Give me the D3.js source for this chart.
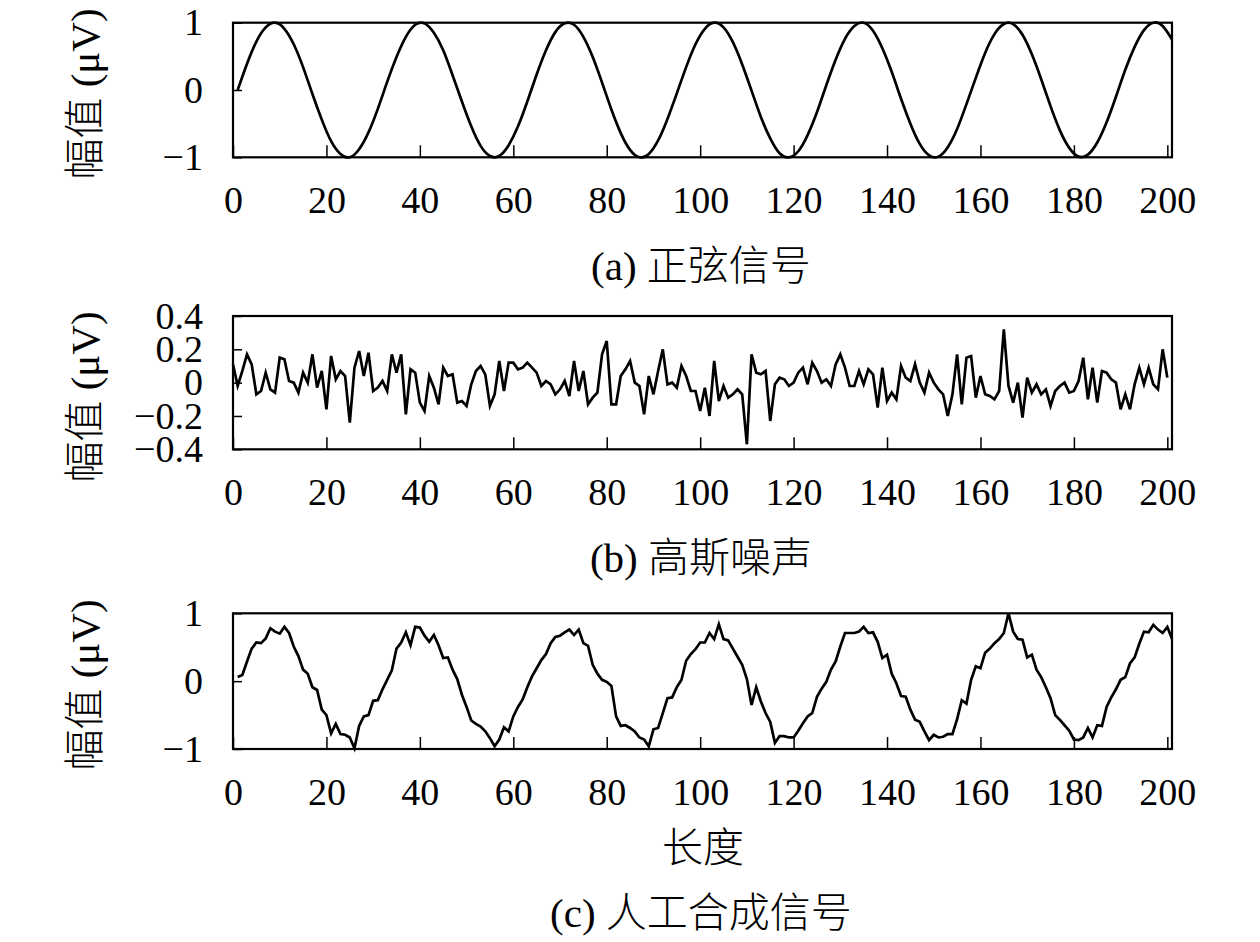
<!DOCTYPE html>
<html>
<head>
<meta charset="utf-8">
<script src="https://cdn.jsdelivr.net/npm/d3@7"></script>
<style>
  body { margin: 0; background: #fff; }
</style>
</head>
<body>
<svg id="svg"></svg>
<script>

// tick values
const lengthTicks = [0, 20, 40, 60, 80, 100, 120, 140, 160, 180, 200];
const unitTicks = [-1, 0, 1];
const noiseTicks = [-0.4, -0.2, 0, 0.2, 0.4];

// (a) sine, sampled every 2 steps (x = 1, 3, ..., 201)
const sineValues = [
  0, 0.39, 0.72, 0.93, 1.00, 0.91, 0.68, 0.34, -0.06, -0.44, -0.76, -0.95, -1.00, -0.88, -0.63, -0.28,
  0.12, 0.49, 0.79, 0.97, 0.99, 0.85, 0.59, 0.22, -0.17, -0.54, -0.83, -0.98, -0.98, -0.82, -0.54, -0.17,
  0.23, 0.59, 0.86, 0.99, 0.97, 0.79, 0.49, 0.11, -0.29, -0.64, -0.89, -1.00, -0.95, -0.75, -0.43, -0.05,
  0.34, 0.68, 0.91, 1.00, 0.93, 0.71, 0.38, -0.01, -0.40, -0.72, -0.94, -1.00, -0.91, -0.67, -0.33,
  0.07, 0.45, 0.76, 0.95, 1.00, 0.88, 0.62, 0.27, -0.13, -0.50, -0.80, -0.97, -0.99, -0.85, -0.58, -0.21,
  0.18, 0.55, 0.83, 0.98, 0.98, 0.82, 0.53, 0.16, -0.24, -0.60, -0.86, -0.99, -0.96, -0.78, -0.48, -0.10,
  0.30, 0.64, 0.89, 1.00, 0.95, 0.75
];

// (b) gaussian noise (x = 0 .. 200)
const noiseValues = [
  0.11, -0.02, 0.07, 0.17, 0.11, -0.07, -0.05, 0.06, -0.04, -0.06,
  0.15, 0.14, 0.01, 0.00, -0.06, 0.06, 0.00, 0.17, -0.03, 0.07,
  -0.16, 0.16, 0.02, 0.07, 0.04, -0.24, 0.09, 0.19, 0.04, 0.18,
  -0.05, -0.03, 0.01, -0.05, 0.17, 0.06, 0.17, -0.19, 0.08, 0.06,
  -0.12, -0.17, 0.04, -0.03, -0.13, 0.09, 0.04, 0.05, -0.12, -0.11,
  -0.14, -0.01, 0.07, 0.10, 0.05, -0.14, -0.07, 0.13, -0.05, 0.12,
  0.12, 0.08, 0.09, 0.12, 0.09, 0.06, -0.02, 0.01, -0.01, -0.07,
  -0.04, 0.01, -0.08, 0.13, -0.05, 0.07, -0.13, -0.09, -0.06, 0.17,
  0.25, -0.13, -0.13, 0.04, 0.08, 0.13, 0.00, -0.02, -0.19, 0.04,
  -0.07, 0.07, 0.20, -0.01, 0.00, -0.03, 0.10, 0.04, -0.05, -0.05,
  -0.17, -0.03, -0.20, 0.13, -0.11, -0.02, -0.09, -0.07, -0.04, -0.07,
  -0.37, 0.17, 0.06, 0.05, 0.07, -0.23, -0.01, 0.03, 0.02, -0.02,
  0.00, 0.06, 0.09, -0.01, 0.12, 0.07, 0.00, 0.02, -0.02, 0.11,
  0.17, 0.09, -0.02, -0.02, 0.07, -0.01, 0.08, 0.05, -0.15, 0.09,
  -0.11, -0.06, -0.10, 0.10, 0.03, 0.01, 0.11, 0.00, -0.06, 0.06,
  0.00, -0.04, -0.07, -0.20, -0.07, 0.17, -0.13, 0.15, 0.16, -0.09,
  0.04, -0.07, -0.08, -0.10, -0.05, 0.32, -0.02, -0.12, 0.00, -0.21,
  0.03, -0.06, -0.01, -0.07, -0.04, -0.14, -0.05, -0.02, 0.00, -0.06,
  -0.05, 0.01, 0.15, -0.10, 0.09, -0.12, 0.07, 0.06, 0.02, 0.00,
  -0.16, -0.07, -0.16, -0.01, 0.09, -0.01, 0.09, -0.01, -0.04, 0.20,
  0.03
];

// (c) synthetic signal (x = 1 .. 201)
const mixedValues = [
  0.06, 0.09, 0.29, 0.48, 0.57, 0.56, 0.63, 0.78, 0.73, 0.70,
  0.80, 0.71, 0.51, 0.37, 0.17, 0.11, -0.09, -0.13, -0.42, -0.50,
  -0.77, -0.63, -0.78, -0.79, -0.83, -0.99, -0.66, -0.52, -0.50, -0.29,
  -0.28, -0.12, 0.02, 0.16, 0.48, 0.57, 0.72, 0.53, 0.80, 0.79,
  0.67, 0.58, 0.68, 0.53, 0.34, 0.35, 0.17, 0.03, -0.20, -0.38,
  -0.58, -0.63, -0.67, -0.74, -0.84, -0.96, -0.86, -0.68, -0.74, -0.52,
  -0.38, -0.27, -0.09, 0.07, 0.19, 0.31, 0.40, 0.56, 0.65, 0.67,
  0.72, 0.76, 0.68, 0.76, 0.56, 0.52, 0.24, 0.11, 0.02, -0.01,
  -0.07, -0.52, -0.66, -0.65, -0.69, -0.74, -0.83, -0.86, -0.96, -0.71,
  -0.69, -0.47, -0.25, -0.24, -0.09, 0.02, 0.30, 0.40, 0.47, 0.57,
  0.57, 0.71, 0.62, 0.84, 0.62, 0.60, 0.48, 0.36, 0.24, 0.03,
  -0.35, -0.09, -0.30, -0.47, -0.60, -0.91, -0.81, -0.81, -0.83, -0.83,
  -0.73, -0.62, -0.52, -0.47, -0.23, -0.11, -0.01, 0.17, 0.29, 0.51,
  0.71, 0.71, 0.71, 0.73, 0.80, 0.71, 0.72, 0.58, 0.34, 0.39,
  0.11, -0.03, -0.22, -0.23, -0.42, -0.57, -0.60, -0.74, -0.87, -0.79,
  -0.83, -0.82, -0.78, -0.78, -0.56, -0.28, -0.33, 0.02, 0.22, 0.19,
  0.42, 0.48, 0.56, 0.62, 0.71, 1.00, 0.73, 0.62, 0.61, 0.35,
  0.39, 0.17, 0.06, -0.09, -0.25, -0.50, -0.57, -0.65, -0.73, -0.86,
  -0.87, -0.83, -0.69, -0.83, -0.65, -0.66, -0.38, -0.24, -0.12, 0.02,
  0.06, 0.26, 0.35, 0.55, 0.73, 0.72, 0.83, 0.76, 0.71, 0.80,
  0.62
];

const captions = ["(a) 正弦信号", "(b) 高斯噪声", "(c) 人工合成信号"];
const yTitle = "幅值 (μV)";
const xTitle = "长度";

const layout = {
  width: 1260,
  height: 942,
  left: 233,
  right: 1172,
  tickFont: 38,
  titleFont: 41
};

const serif = "'Liberation Serif', 'Times New Roman', 'Noto Sans CJK SC', serif";

const panels = [
  {values: sineValues, xOf: i => 1 + 2 * i, curve: d3.curveNatural, yDomain: [-1, 1], yTicks: unitTicks,
   top: 22.7, bottom: 157.3, titleY: 94, caption: captions[0], captionY: 280},
  {values: noiseValues, xOf: i => i, curve: d3.curveLinear, yDomain: [-0.4, 0.4], yTicks: noiseTicks,
   top: 316, bottom: 449.3, titleY: 397, caption: captions[1], captionY: 572},
  {values: mixedValues, xOf: i => i + 1, curve: d3.curveLinear, yDomain: [-1, 1], yTicks: unitTicks,
   top: 613.3, bottom: 749, titleY: 685, caption: captions[2], captionY: 927}
];

const svg = d3.select("#svg")
  .attr("width", layout.width)
  .attr("height", layout.height)
  .style("background", "#fff");

const xScale = d3.scaleLinear()
  .domain([0, 201])
  .range([layout.left, layout.right]);

panels.forEach((p, k) => {

  const yScale = d3.scaleLinear()
    .domain(p.yDomain)
    .range([p.bottom, p.top]);

  const g = svg.append("g").attr("class", "panel" + k);

  // bottom axis, ticks pointing in
  g.append("g")
    .attr("transform", `translate(0, ${p.bottom})`)
    .call(d3.axisBottom(xScale)
      .tickValues(lengthTicks)
      .tickFormat(d3.format("d"))
      .tickSizeInner(-12)
      .tickSizeOuter(0)
      .tickPadding(29))
    .call(a => a.select(".domain").remove())
    .attr("font-family", serif)
    .attr("font-size", layout.tickFont)
    .call(a => a.selectAll("line").attr("stroke-width", 1.5));

  // left axis
  g.append("g")
    .attr("transform", `translate(${layout.left}, 0)`)
    .call(d3.axisLeft(yScale)
      .tickValues(p.yTicks)
      .tickFormat(d3.format(""))
      .tickSizeInner(-9)
      .tickSizeOuter(0)
      .tickPadding(30))
    .call(a => a.select(".domain").remove())
    .attr("font-family", serif)
    .attr("font-size", layout.tickFont)
    .call(a => a.selectAll("line").attr("stroke-width", 1.5));

  // frame
  g.append("rect")
    .attr("x", xScale(0))
    .attr("y", yScale(p.yDomain[1]))
    .attr("width", xScale(201) - xScale(0))
    .attr("height", yScale(p.yDomain[0]) - yScale(p.yDomain[1]))
    .attr("fill", "none")
    .attr("stroke", "#000")
    .attr("stroke-width", 2.2);

  const line = d3.line()
    .x((d, i) => xScale(p.xOf(i)))
    .y(d => yScale(d))
    .curve(p.curve);

  g.append("path")
    .datum(p.values)
    .attr("d", line)
    .attr("fill", "none")
    .attr("stroke", "#000")
    .attr("stroke-width", 2.7);

  // y title
  g.append("text")
    .attr("transform", `translate(99, ${p.titleY}) rotate(-90)`)
    .attr("text-anchor", "middle")
    .attr("font-family", serif)
    .attr("font-size", layout.titleFont)
    .attr("font-weight", 300)
    .text(yTitle);

  // caption
  g.append("text")
    .attr("x", 701)
    .attr("y", p.captionY)
    .attr("text-anchor", "middle")
    .attr("font-family", serif)
    .attr("font-size", layout.titleFont)
    .attr("font-weight", 300)
    .text(p.caption);
});

svg.append("text")
  .attr("x", 703)
  .attr("y", 862)
  .attr("text-anchor", "middle")
  .attr("font-family", serif)
  .attr("font-size", layout.titleFont)
  .attr("font-weight", 300)
  .text(xTitle);

</script>
</body>
</html>
